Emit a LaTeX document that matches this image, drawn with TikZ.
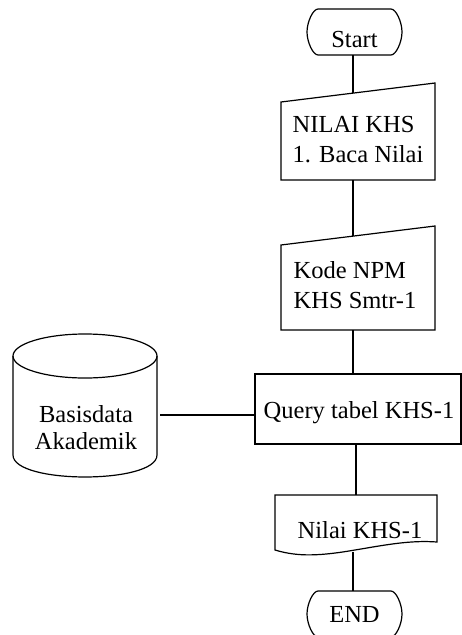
\documentclass[tikz,border=0pt]{standalone}
\usepackage{fontspec}
\setmainfont{Liberation Serif}
\begin{document}
\begin{tikzpicture}[x=1pt,y=-1pt,line width=1.2pt,
  lbl/.style={inner sep=0pt,font=\fontsize{24.5}{30}\selectfont},
  conn/.style={line width=1.2pt}]
\useasboundingbox (0,0) rectangle (462,635);
% Start terminator
\draw (318,9) -- (391,9) .. controls (396,9) and (402,22) .. (402,32)
  .. controls (402,42) and (396,55) .. (391,55) -- (318,55)
  .. controls (313,55) and (307,42) .. (307,32)
  .. controls (307,22) and (313,9) .. (318,9) -- cycle;
\node[lbl] (start) at (354.5,40) {Start};
\coordinate (startB) at (353,55);
% Manual input 1
\draw (281,102) -- (435,83) -- (435,180) -- (281,180) -- cycle;
\node[lbl,align=left] (baca) at (358,140) {NILAI KHS\\1. Baca Nilai};
\coordinate (bacaT) at (353,92.6);
\coordinate (bacaB) at (353,180);
% Manual input 2
\draw (281,245) -- (435,226) -- (435,330) -- (281,330) -- cycle;
\node[lbl,align=left] (kode) at (355,285) {Kode NPM\\KHS Smtr-1};
\coordinate (kodeT) at (353,235.7);
\coordinate (kodeB) at (353,330);
% Query process
\draw (255,374) rectangle (461,444);
\node[lbl] (query) at (359,413) {Query tabel KHS-1};
\coordinate (queryT) at (353,374);
\coordinate (queryB) at (356,444);
\coordinate (queryL) at (255,415);
% Database cylinder
\draw (85,356) ellipse [x radius=72pt, y radius=22pt];
\draw (13,356) -- (13,455) .. controls (13,484.3) and (157,484.3) .. (157,455) -- (157,356);
\node[lbl,font=\fontsize{24.5}{27}\selectfont,align=center] (db) at (86,428) {Basisdata\\Akademik};
\coordinate (dbR) at (160,415);
% Document
\draw (275,495) -- (437,495) -- (437,542)
  .. controls (410,540) and (385,545) .. (355,550)
  .. controls (320,556) and (298,557) .. (275,550) -- cycle;
\node[lbl] (doc) at (360,530) {Nilai KHS-1};
\coordinate (docT) at (356,495);
\coordinate (docB) at (353,551.5);
% END terminator
\draw (318,591) -- (391,591) .. controls (396,591) and (402,604) .. (402,614)
  .. controls (402,624) and (396,637) .. (391,637) -- (318,637)
  .. controls (313,637) and (307,624) .. (307,614)
  .. controls (307,604) and (313,591) .. (318,591) -- cycle;
\node[lbl] (endn) at (354.5,614) {END};
\coordinate (endT) at (353,591);
% Connectors
\draw[conn] (startB) -- (bacaT);
\draw[conn] (bacaB) -- (kodeT);
\draw[conn] (kodeB) -- (queryT);
\draw[conn] (queryB) -- (docT);
\draw[conn] (docB) -- (endT);
\draw[conn] (dbR) -- (queryL);
\end{tikzpicture}
\end{document}
